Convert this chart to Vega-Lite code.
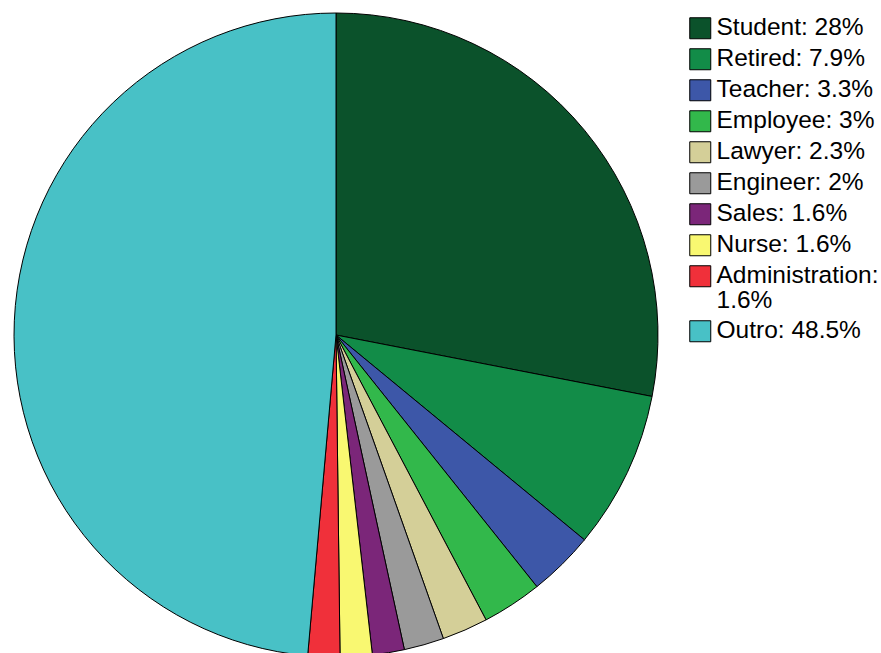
{
  "$schema": "https://vega.github.io/schema/vega-lite/v6.json",
  "width": 672,
  "height": 670,
  "padding": 0,
  "background": "white",
  "data": {
    "values": [
      {"rank": 1, "label": "Student: 28%", "pct": 28},
      {"rank": 2, "label": "Retired: 7.9%", "pct": 7.9},
      {"rank": 3, "label": "Teacher: 3.3%", "pct": 3.3},
      {"rank": 4, "label": "Employee: 3%", "pct": 3},
      {"rank": 5, "label": "Lawyer: 2.3%", "pct": 2.3},
      {"rank": 6, "label": "Engineer: 2%", "pct": 2},
      {"rank": 7, "label": "Sales: 1.6%", "pct": 1.6},
      {"rank": 8, "label": "Nurse: 1.6%", "pct": 1.6},
      {"rank": 9, "label": "Administration: 1.6%", "pct": 1.6},
      {"rank": 10, "label": "Outro: 48.5%", "pct": 48.5}
    ]
  },
  "mark": {"type": "arc", "outerRadius": 322, "stroke": "black", "strokeWidth": 1},
  "encoding": {
    "theta": {"field": "pct", "type": "quantitative", "stack": true},
    "order": {"field": "rank", "type": "quantitative"},
    "color": {
      "field": "label",
      "type": "nominal",
      "scale": {
        "domain": ["Student: 28%", "Retired: 7.9%", "Teacher: 3.3%", "Employee: 3%", "Lawyer: 2.3%", "Engineer: 2%", "Sales: 1.6%", "Nurse: 1.6%", "Administration: 1.6%", "Outro: 48.5%"],
        "range": ["#0b522b", "#128c48", "#3d57a8", "#32b84b", "#d4cf98", "#9a9a9a", "#7b2679", "#f9f871", "#f0303a", "#48c1c6"]
      },
      "legend": {
        "title": null,
        "orient": "right",
        "offset": 0,
        "padding": 16,
        "symbolType": "square",
        "symbolSize": 441,
        "symbolStrokeColor": "black",
        "symbolStrokeWidth": 1,
        "symbolOpacity": 1,
        "labelFont": "Liberation Sans",
        "labelFontSize": 24.5,
        "labelColor": "black",
        "labelOffset": 4,
        "labelLimit": 300,
        "rowPadding": 5,
        "labelExpr": "datum.label == 'Administration: 1.6%' ? ['Administration:', '1.6%'] : datum.label"
      }
    }
  },
  "config": {
    "view": {"stroke": null},
    "style": {"guide-label": {"lineHeight": 25}}
  }
}
